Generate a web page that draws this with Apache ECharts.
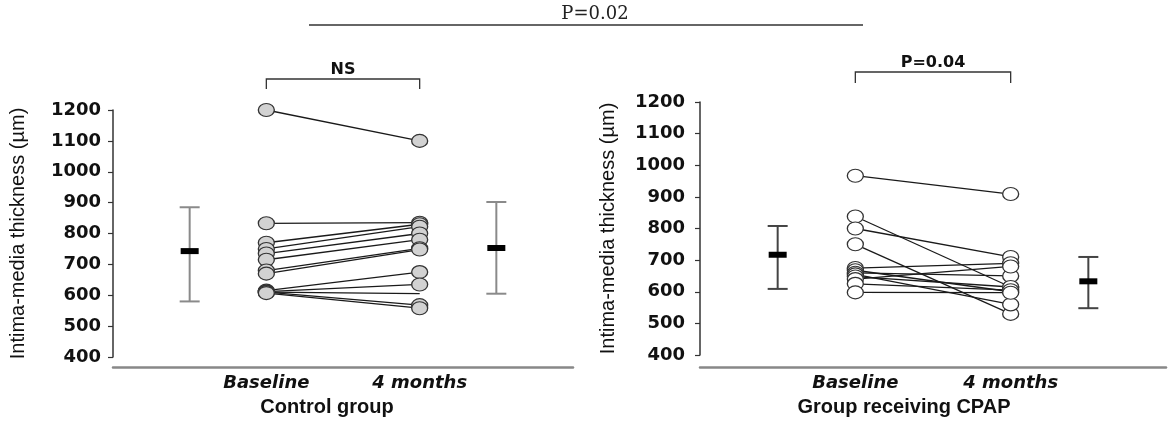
<!DOCTYPE html>
<html>
<head>
<meta charset="utf-8">
<script src="https://cdn.jsdelivr.net/npm/echarts@6/dist/echarts.min.js"></script>
<style>html,body{margin:0;padding:0;background:#fff}#c{width:1169px;height:422px}</style>
</head>
<body>
<div id="c"></div>
<script>
// ---- data ----
const yTicks = [400, 500, 600, 700, 800, 900, 1000, 1100, 1200];
const timeLabels = ['Baseline', '4 months'];
const groupNames = ['Control group', 'Group receiving CPAP'];
const yTitle = 'Intima-media thickness (\u00b5m)';
// x category positions: mean(baseline), Baseline, 4 months, mean(4 months)
const xMeanBase = 1, xBase = 2, x4m = 4, xMean4m = 5;

const controlBaseline = [1200, 833, 770, 750, 735, 715, 680, 670, 615, 612, 610, 610, 607];
const control4m       = [1100, 835, 830, 822, 800, 780, 752, 748, 675, 635, 605, 568, 558];
const controlNoMarker4m = [10];

const cpapBaseline = [967, 838, 800, 750, 675, 668, 660, 655, 648, 640, 625, 598];
const cpap4m       = [909, 615, 710, 530, 690, 600, 650, 560, 615, 680, 605, 597];

// mean, low, high
const controlMean = [743, 753];
const controlLow  = [580, 605];
const controlHigh = [885, 902];
const cpapMean = [717, 633];
const cpapLow  = [609, 548];
const cpapHigh = [808, 710];

const pAll = 'P=0.02', pControl = 'NS', pCpap = 'P=0.04';

// ---- chart ----
const chart = echarts.init(document.getElementById('c'), null, {renderer: 'canvas'});
const tickFont = {fontFamily: 'DejaVu Sans', fontWeight: 'bold', fontSize: 18, color: '#111'};

function yAxis(gridIndex, margin, gap) {
  return {
    type: 'value', gridIndex, min: yTicks[0], max: yTicks[yTicks.length - 1], interval: yTicks[1] - yTicks[0],
    axisLine: {show: true, lineStyle: {color: '#333', width: 1.5}},
    axisTick: {show: true, length: 5, lineStyle: {color: '#333', width: 1.2}},
    axisLabel: Object.assign({margin, formatter: v => String(v)}, tickFont),
    splitLine: {show: false},
    name: yTitle, nameLocation: 'middle', nameGap: gap,
    nameTextStyle: {fontFamily: 'Liberation Sans', fontSize: 20, color: '#111'}
  };
}
function xAxis(gridIndex, offset, padRight) {
  return {
    type: 'value', gridIndex, min: 0, max: 6, interval: 1, offset,
    axisLine: {show: true, lineStyle: {color: '#888', width: 2.5}},
    axisTick: {show: false}, splitLine: {show: false},
    axisLabel: {
      margin: 7, fontFamily: 'DejaVu Sans', fontWeight: 'bold', fontStyle: 'italic', fontSize: 18, color: '#111',
      formatter: v => v === xBase ? timeLabels[0] : (v === x4m ? timeLabels[1] : '')
    },
    name: groupNames[gridIndex], nameLocation: 'middle', nameGap: 30,
    nameTextStyle: {fontFamily: 'Liberation Sans', fontWeight: 'bold', fontSize: 20, color: '#111', padding: [0, padRight, 0, 0]}
  };
}

function pairSeries(base, m4, gi, fill, noMarker) {
  const out = [];
  base.forEach((b, i) => {
    out.push({type: 'line', xAxisIndex: gi, yAxisIndex: gi, data: [[xBase, b], [x4m, m4[i]]],
      showSymbol: false, symbol: 'none', silent: true, z: 2,
      lineStyle: {color: '#1a1a1a', width: 1.3}});
  });
  const pts = [];
  base.forEach((b) => pts.push([xBase, b]));
  m4.forEach((m, i) => {
    if (noMarker.indexOf(i) >= 0) pts.push({value: [x4m, m], symbol: 'none'});
    else pts.push([x4m, m]);
  });
  out.push({type: 'scatter', xAxisIndex: gi, yAxisIndex: gi, data: pts, z: 5,
    symbol: 'circle', symbolSize: [16, 13],
    itemStyle: {color: fill, borderColor: '#333', borderWidth: 1.2, opacity: 1}});
  return out;
}

function errSeries(gi, means, lows, highs, barColor) {
  const data = [[xMeanBase, means[0], lows[0], highs[0]], [xMean4m, means[1], lows[1], highs[1]]];
  return {
    type: 'custom', xAxisIndex: gi, yAxisIndex: gi, data, z: 4,
    encode: {x: 0, y: [1, 2, 3]},
    renderItem: (params, api) => {
      const x = api.value(0);
      const pm = api.coord([x, api.value(1)]);
      const pl = api.coord([x, api.value(2)]);
      const ph = api.coord([x, api.value(3)]);
      const cw = 10, st = {stroke: barColor, lineWidth: 2};
      return {type: 'group', children: [
        {type: 'line', shape: {x1: pl[0], y1: pl[1], x2: ph[0], y2: ph[1]}, style: st},
        {type: 'line', shape: {x1: pl[0] - cw, y1: pl[1], x2: pl[0] + cw, y2: pl[1]}, style: st},
        {type: 'line', shape: {x1: ph[0] - cw, y1: ph[1], x2: ph[0] + cw, y2: ph[1]}, style: st},
        {type: 'rect', shape: {x: pm[0] - 9, y: pm[1] - 3, width: 18, height: 6}, style: {fill: '#000'}}
      ]};
    }
  };
}

const option = {
  animation: false,
  backgroundColor: '#fff',
  grid: [
    {left: 113, top: 110, width: 460, height: 247},
    {left: 700, top: 102, width: 468, height: 254}
  ],
  xAxis: [xAxis(0, 10, 32), xAxis(1, 12, 58)],
  yAxis: [yAxis(0, 12, 85), yAxis(1, 15, 82)],
  series: [].concat(
    pairSeries(controlBaseline, control4m, 0, '#d2d2d2', controlNoMarker4m),
    pairSeries(cpapBaseline, cpap4m, 1, '#ffffff', []),
    [errSeries(0, controlMean, controlLow, controlHigh, '#8a8a8a'),
     errSeries(1, cpapMean, cpapLow, cpapHigh, '#444')]
  )
};
chart.setOption(option);

// annotations (brackets placed from the axes)
const lb = chart.convertToPixel({xAxisIndex: 0, yAxisIndex: 0}, [xBase, 1200]);
const l4 = chart.convertToPixel({xAxisIndex: 0, yAxisIndex: 0}, [x4m, 1200]);
const rb = chart.convertToPixel({xAxisIndex: 1, yAxisIndex: 1}, [xBase, 1200]);
const r4 = chart.convertToPixel({xAxisIndex: 1, yAxisIndex: 1}, [x4m, 1200]);
const bracket = (x1, x2, y, drop) => ({type: 'polyline', silent: true,
  shape: {points: [[x1, y + drop], [x1, y], [x2, y], [x2, y + drop]]},
  style: {stroke: '#333', lineWidth: 1.3, fill: null}});
chart.setOption({graphic: [
  {type: 'text', x: 595, y: 14, style: {text: pAll, fontFamily: 'DejaVu Serif', fontSize: 18, fill: '#222', align: 'center', verticalAlign: 'middle'}},
  {type: 'line', shape: {x1: 309, y1: 25, x2: 863, y2: 25}, style: {stroke: '#333', lineWidth: 1.5}},
  {type: 'text', x: (lb[0] + l4[0]) / 2, y: 70, style: {text: pControl, fontFamily: 'DejaVu Sans', fontWeight: 'bold', fontSize: 16, fill: '#111', align: 'center', verticalAlign: 'middle'}},
  bracket(lb[0], l4[0], 79, 10),
  {type: 'text', x: (rb[0] + r4[0]) / 2, y: 63, style: {text: pCpap, fontFamily: 'DejaVu Sans', fontWeight: 'bold', fontSize: 16, fill: '#111', align: 'center', verticalAlign: 'middle'}},
  bracket(rb[0], r4[0], 72, 11)
]});
</script>
</body>
</html>
